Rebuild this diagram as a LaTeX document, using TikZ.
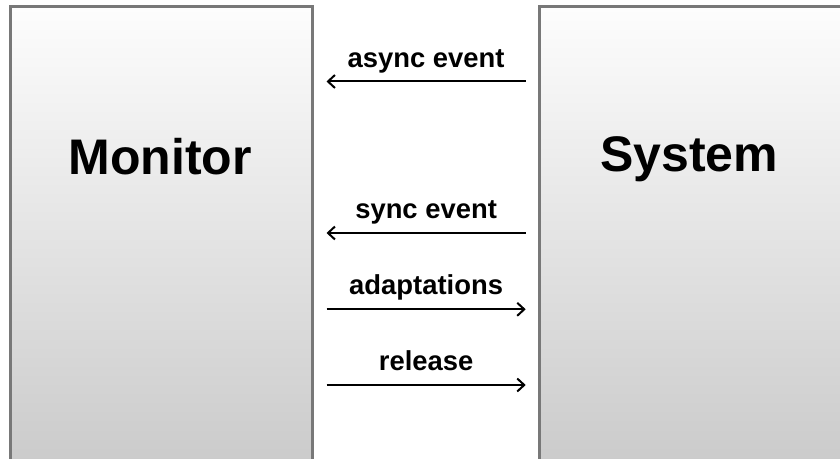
\documentclass[tikz,border=0pt]{standalone}
\usepackage{fontspec}
\setmainfont{Liberation Sans}
\usetikzlibrary{arrows.meta,positioning}
\definecolor{frame}{RGB}{120,120,120}
\definecolor{shadetop}{RGB}{253,253,253}
\definecolor{shadebot}{RGB}{202,202,202}
\tikzset{
  sidebox/.style={rectangle, draw=frame, line width=1.5pt,
                  top color=shadetop, bottom color=shadebot,
                  anchor=north west, inner sep=0pt, outer sep=0pt},
  sidename/.style={font=\fontsize{25}{30}\selectfont\bfseries, anchor=base},
  msg/.style={-{Straight Barb[length=3.5pt,width=6.5pt]}, line width=1pt,
              shorten <=7pt, shorten >=7pt},
  lbl/.style={font=\fontsize{13.7}{16}\selectfont\bfseries, anchor=base,
              yshift=7.2pt, inner sep=0pt},
}

\begin{document}
\begin{tikzpicture}[x=0.5pt, y=-0.5pt]
  \clip (0,0) rectangle (840,459);
  % the two parties
  \node[sidebox, minimum width=151.25pt, minimum height=232pt] (monitor) at (10,7) {};
  \node[sidebox, minimum width=210pt, minimum height=232pt] (system) at (539.7,7) {};
  \node[sidename] (monitorname) at (160,175) {Monitor};
  \node[sidename] (systemname) at (689,172) {System};
  % message rows
  \coordinate (row1) at (0,81.5);
  \coordinate (row2) at (0,233);
  \coordinate (row3) at (0,309.3);
  \coordinate (row4) at (0,385);
  \draw[msg] (system.west |- row1) -- node[lbl] {async event} (monitor.east |- row1);
  \draw[msg] (system.west |- row2) -- node[lbl] {sync event} (monitor.east |- row2);
  \draw[msg] (monitor.east |- row3) -- node[lbl] {adaptations} (system.west |- row3);
  \draw[msg] (monitor.east |- row4) -- node[lbl] {release} (system.west |- row4);
\end{tikzpicture}
\end{document}
